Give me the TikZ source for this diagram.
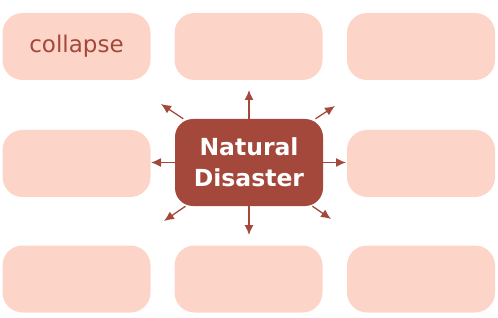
\documentclass[tikz,border=0pt]{standalone}
\usepackage{fontspec}
\setmainfont{DejaVu Sans}
\usetikzlibrary{arrows.meta, positioning}

\definecolor{brick}{HTML}{A3483A}
\definecolor{salmon}{HTML}{FDD5C8}

\tikzset{
  cell/.style={fill=salmon, rounded corners=20pt, minimum width=148pt,
    minimum height=67pt, inner sep=0pt, text=brick,
    font=\fontsize{23}{26}\selectfont},
  hub/.style={fill=brick, rounded corners=18pt, minimum width=148pt,
    minimum height=87pt, inner sep=0pt, text=white, align=center,
    font=\fontsize{23.5}{31}\selectfont\bfseries},
  spoke/.style={draw=brick, line width=1.3pt, -{Latex[length=10pt,width=9pt]}}
}

\begin{document}
\begin{tikzpicture}[x=1pt, y=-1pt]
  \useasboundingbox (0,0) rectangle (498,318);
  % outer cells
  \node[cell] (TL) at (76.5,46.5) {collapse};
  \node[cell] (TM) at (248.5,46.5) {};
  \node[cell] (TR) at (421,46.5) {};
  \node[cell] (ML) at (76.5,163.5) {};
  \node[cell] (MR) at (421,163.5) {};
  \node[cell] (BL) at (76.5,279) {};
  \node[cell] (BM) at (248.5,279) {};
  \node[cell] (BR) at (421,279) {};
  % centre
  \node[hub] (ND) at (249,162.5) {Natural\\Disaster};
  % arrow ends
  \coordinate (n)  at (249,90);
  \coordinate (s)  at (249,235);
  \coordinate (w)  at (151,162.5);
  \coordinate (e)  at (346,162.5);
  \coordinate (nw) at (161,104);
  \coordinate (ne) at (335,106);
  \coordinate (sw) at (164,221);
  \coordinate (se) at (331,219);
  \foreach \c in {n,s,w,e,nw,ne,sw,se}
    \draw[spoke] (ND) -- (\c);
\end{tikzpicture}
\end{document}
